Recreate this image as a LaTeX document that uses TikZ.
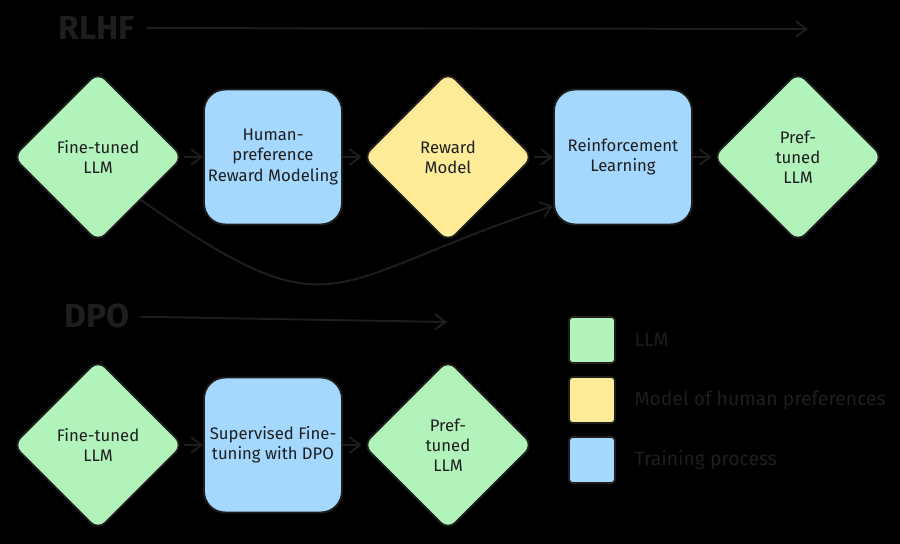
\documentclass[tikz,border=0pt]{standalone}
\usepackage{fontspec}
\setmainfont{Fira Sans}
\usetikzlibrary{shapes.geometric,arrows.meta,positioning}
\definecolor{ink}{HTML}{1E1E1E}
\definecolor{llmgreen}{HTML}{B2F2BB}
\definecolor{prefyellow}{HTML}{FFEC99}
\definecolor{trainblue}{HTML}{A5D8FF}
\tikzset{
  llm/.style={diamond, aspect=1, minimum size=3.42cm, inner sep=0pt,
    draw=ink, line width=1.1pt, fill=llmgreen, rounded corners=6pt,
    align=center, text=ink, font=\fontsize{9.5}{11.5}\selectfont},
  pref/.style={llm, fill=prefyellow},
  train/.style={rectangle, minimum width=2.76cm, minimum height=2.7cm,
    inner sep=2pt, draw=ink, line width=1.1pt, fill=trainblue,
    rounded corners=12pt, align=center, text=ink,
    font=\fontsize{9.5}{11.5}\selectfont},
  flow/.style={-{Straight Barb[length=6pt,width=9pt]}, draw=ink, line width=1.1pt},
  title/.style={text=ink, font=\fontsize{19}{22}\selectfont\bfseries},
  swatch/.style={rectangle, minimum size=0.92cm, inner sep=0pt, draw=ink,
    line width=1pt, rounded corners=2pt},
  legtext/.style={text=ink, font=\fontsize{11}{13}\selectfont, right=0.25cm of #1}
}
\begin{document}
\begin{tikzpicture}
    \def\x{3.5}
    \def\y{5.76}
    \fill[black] (-1.96, 3.14) rectangle (16.04, -7.74);
    % RLHF
    \node[title] (T0) at (-0.02, 2.58) {RLHF};
    \coordinate (E0) at (14.2, 2.56);
    \path (T0) edge [flow, shorten <=0.1cm] (E0);
    \node[llm] (A0_0) at (0*\x, 0*\y) {Fine-tuned\\LLM};
    \node[train] (A0_1) at (1*\x, 0*\y) {Human-\\preference\\Reward Modeling};
    \node[pref] (A0_2) at (2*\x, 0*\y) {Reward\\Model};
    \node[train] (A0_3) at (3*\x, 0*\y) {Reinforcement\\Learning};
    \node[llm] (A0_4) at (4*\x, 0*\y) {Pref-\\tuned\\LLM};
    \path (A0_0) edge [flow] (A0_1);
    \path (A0_1) edge [flow] (A0_2);
    \path (A0_2) edge [flow] (A0_3);
    \path (A0_3) edge [flow] (A0_4);
    \path (A0_0.south east) edge [flow, out=-35, in=198, looseness=1.5] (A0_3.215);
    % DPO
    \node[title] (T1) at (-0.02, -3.18) {DPO};
    \coordinate (E1) at (6.98, -3.3);
    \path (T1) edge [flow, shorten <=0.1cm] (E1);
    \node[llm] (A1_0) at (0*\x, -1*\y) {Fine-tuned\\LLM};
    \node[train] (A1_1) at (1*\x, -1*\y) {Supervised Fine-\\tuning with DPO};
    \node[llm] (A1_2) at (2*\x, -1*\y) {Pref-\\tuned\\LLM};
    \path (A1_0) edge [flow] (A1_1);
    \path (A1_1) edge [flow] (A1_2);
    % legend
    \node[swatch, fill=llmgreen] (L0) at (9.88, -3.66) {};
    \node[swatch, fill=prefyellow] (L1) at (9.88, -4.86) {};
    \node[swatch, fill=trainblue] (L2) at (9.88, -6.06) {};
    \node[legtext=L0] (L0t) {LLM};
    \node[legtext=L1] (L1t) {Model of human preferences};
    \node[legtext=L2] (L2t) {Training process};
  \end{tikzpicture}
\end{document}
